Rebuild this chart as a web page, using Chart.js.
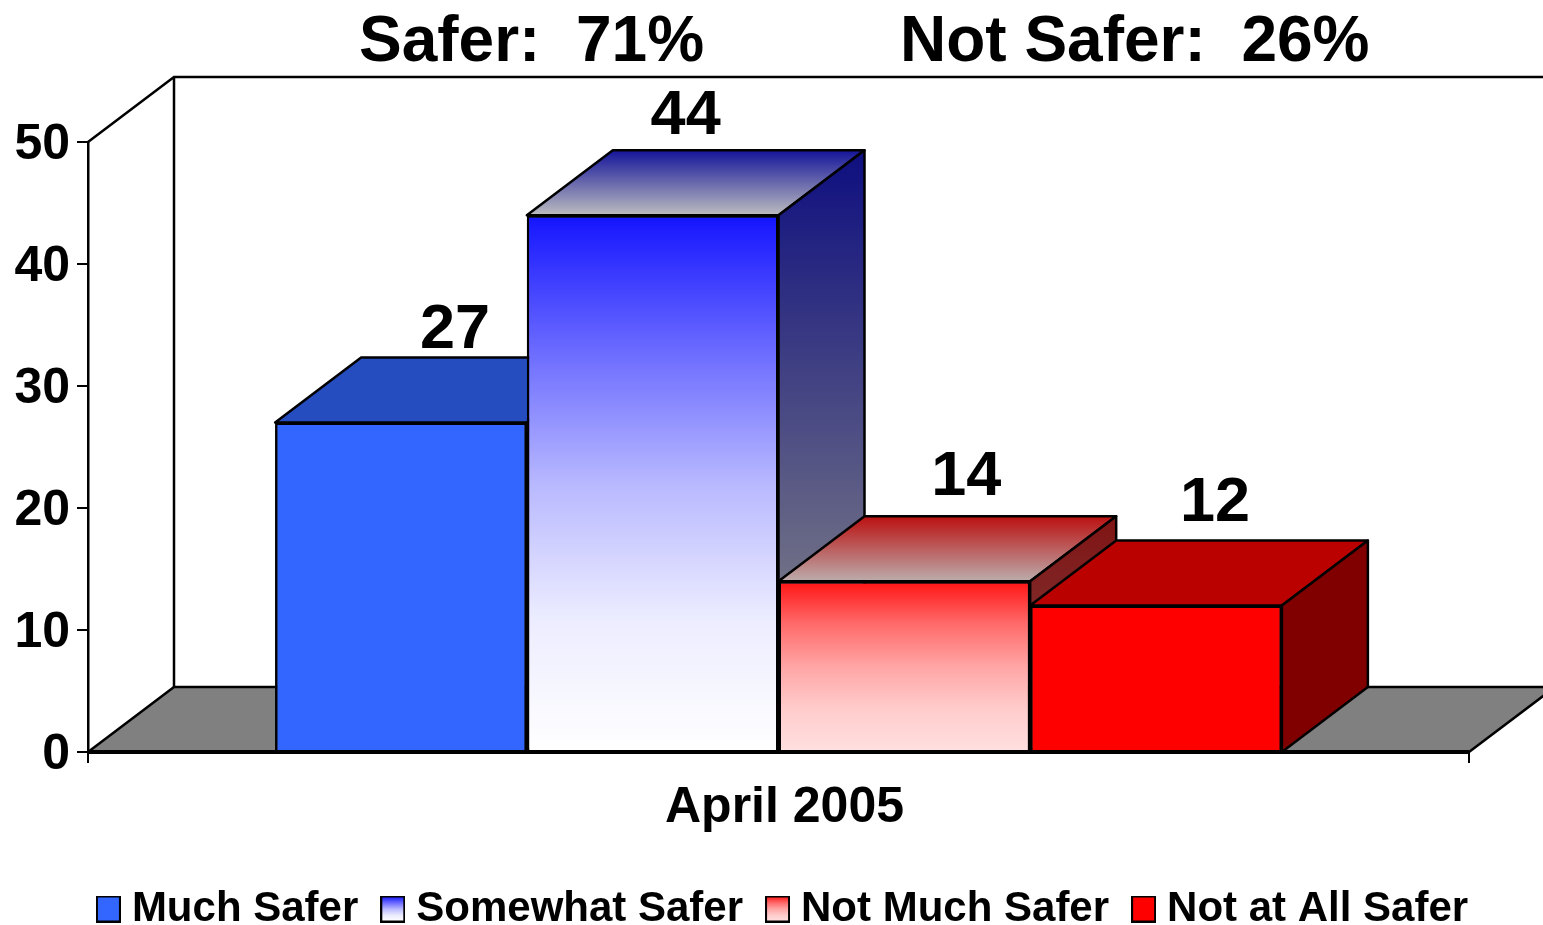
<!DOCTYPE html>
<html>
<head>
<meta charset="utf-8">
<style>html,body{margin:0;padding:0;background:#fff;overflow:hidden}canvas{display:block}</style>
<script src="https://cdn.jsdelivr.net/npm/chart.js@4"></script>
</head>
<body>
<canvas id="c" width="1543" height="925"></canvas>
<script>
const categories = ['April 2005'];
const seriesNames = ['Much Safer', 'Somewhat Safer', 'Not Much Safer', 'Not at All Safer'];
const muchSafer = [27];
const somewhatSafer = [44];
const notMuchSafer = [14];
const notAtAllSafer = [12];
const headlines = ['Safer:  71%', 'Not Safer:  26%'];

const FONT = '"Liberation Sans", Arial, sans-serif';
const DX = 86, DY = 65;
const frontColors = [
  ['#3366ff','#3366ff'],
  ['#1414ff','#6a6aff','#b8b8ff','#ececff','#ffffff'],
  ['#ff1414','#ff6a6a','#ffa5a5','#ffcccc','#ffe0e0'],
  ['#ff0000','#ff0000']
];
const topColors   = [['#254dc0','#254dc0'],['#14149a','#bcbcc0'],['#bb1010','#bcacac'],['#bb0000','#bb0000']];
const sideColors  = [['#0e0e80','#888888'],['#0e0e80','#888888'],['#801414','#803838'],['#800000','#800000']];
const labelDx = [54, 33, 62, 59];
const labelDy = [-10, -16, -21, -20];

function grad(c, y0, y1, stops){
  const g = c.createLinearGradient(0, y0, 0, y1);
  stops.forEach((s,k)=> g.addColorStop(k/(stops.length-1), s));
  return g;
}
function poly(c, pts, fill){
  c.beginPath();
  pts.forEach((p,i)=> i ? c.lineTo(p[0],p[1]) : c.moveTo(p[0],p[1]));
  c.closePath();
  c.fillStyle = fill; c.fill();
  c.lineWidth = 2.5; c.strokeStyle = '#000'; c.lineJoin = 'round'; c.stroke();
}
function swatch(i){
  const s = document.createElement('canvas'); s.width = 25; s.height = 27;
  const c = s.getContext('2d');
  c.fillStyle = grad(c, 1, 26, frontColors[i]); c.fillRect(1,1,23,25);
  c.strokeStyle = '#000'; c.lineWidth = 2; c.strokeRect(1,1,23,25);
  return s;
}

const frame3d = {
  id: 'frame3d',
  beforeDatasetsDraw(chart){
    const c = chart.ctx, a = chart.chartArea;
    c.save();
    c.lineWidth = 2.5; c.strokeStyle = '#000';
    c.beginPath();
    c.moveTo(a.left, a.top); c.lineTo(a.left+DX, a.top-DY); c.lineTo(1560, a.top-DY);
    c.moveTo(a.left+DX, a.top-DY); c.lineTo(a.left+DX, a.bottom-DY);
    c.stroke();
    poly(c, [[a.left,a.bottom],[a.left+DX,a.bottom-DY],[a.right+DX,a.bottom-DY],[a.right,a.bottom]], '#808080');
    c.restore();
  },
  afterDatasetsDraw(chart){
    const c = chart.ctx, sy = chart.scales.y;
    c.save();
    chart.data.datasets.forEach((ds,i)=>{
      const bar = chart.getDatasetMeta(i).data[0];
      const p = bar.getProps(['x','y','base','width'], true);
      const l = p.x - p.width/2, r = p.x + p.width/2, t = p.y, b = sy.getPixelForValue(0);
      poly(c, [[l,t],[l+DX,t-DY],[r+DX,t-DY],[r,t]], grad(c, t-DY, t, topColors[i]));
      poly(c, [[r,t],[r+DX,t-DY],[r+DX,b-DY],[r,b]], grad(c, t-DY, b-DY, sideColors[i]));
      bar.draw(c, chart.chartArea);
    });
    c.lineWidth = 4; c.strokeStyle = '#000';
    c.beginPath(); c.moveTo(chart.chartArea.left, sy.getPixelForValue(0)); c.lineTo(chart.chartArea.right, sy.getPixelForValue(0)); c.stroke();
    // value labels
    c.fillStyle = '#000'; c.textAlign = 'center'; c.textBaseline = 'alphabetic';
    c.font = 'bold 63px ' + FONT;
    chart.data.datasets.forEach((ds,i)=>{
      const bar = chart.getDatasetMeta(i).data[0];
      c.fillText(String(ds.data[0]), bar.x + labelDx[i], bar.y - DY + labelDy[i]);
    });
    // headlines
    c.textAlign = 'left';
    c.font = 'bold 64px ' + FONT;
    c.fillText(headlines[0], 359, 61);
    c.fillText(headlines[1], 900, 61);
    c.restore();
  }
};

const allSeries = [muchSafer, somewhatSafer, notMuchSafer, notAtAllSafer];
const datasets = seriesNames.map((name,i)=>({
  label: name,
  data: allSeries[i],
  borderColor: '#000',
  borderWidth: 2.5,
  categoryPercentage: 0.729,
  barPercentage: 1,
  backgroundColor(ctx){
    const ch = ctx.chart;
    if(!ch.chartArea || !ch.scales.y) return frontColors[i][0];
    const y = ch.scales.y;
    return grad(ch.ctx, y.getPixelForValue(allSeries[i][0]), y.getPixelForValue(0), frontColors[i]);
  }
}));

new Chart(document.getElementById('c'), {
  type: 'bar',
  data: { labels: categories, datasets },
  plugins: [frame3d],
  options: {
    responsive: false,
    animation: false,
    devicePixelRatio: 1,
    layout: { padding: { top: 142, left: 10, right: -21, bottom: -15 } },
    plugins: {
      title: { display: false },
      tooltip: { enabled: false },
      legend: {
        display: true,
        position: 'bottom',
        labels: {
          usePointStyle: true,
          boxWidth: 5,
          boxHeight: 27,
          padding: 32,
          color: '#000',
          font: { family: FONT, weight: 'bold', size: 42 },
          generateLabels(chart){
            return chart.data.datasets.map((d,i)=>({
              text: d.label, datasetIndex: i, pointStyle: swatch(i),
              fillStyle: frontColors[i][0], strokeStyle: '#000', lineWidth: 2, hidden: false
            }));
          }
        }
      }
    },
    scales: {
      x: {
        grid: { offset: true, drawOnChartArea: false, color: '#000', lineWidth: 2, tickLength: 11 },
        border: { display: false },
        ticks: { color: '#000', padding: 15, labelOffset: 6, font: { family: FONT, weight: 'bold', size: 50 }, maxRotation: 0 },
        afterFit(s){ s.height = 104; }
      },
      y: {
        min: 0, max: 50,
        grid: { drawOnChartArea: false, color: '#000', lineWidth: 2, tickLength: 11 },
        border: { display: true, color: '#000', width: 2.5 },
        ticks: { stepSize: 10, color: '#000', padding: 7, labelOffset: 3, font: { family: FONT, weight: 'bold', size: 50 } },
        afterFit(s){ s.width = 78; }
      },
      yr: {
        position: 'right',
        min: 0, max: 50,
        grid: { display: false },
        border: { display: false },
        ticks: { display: false },
        afterFit(s){ s.width = 95; }
      }
    }
  }
});
</script>
</body>
</html>
